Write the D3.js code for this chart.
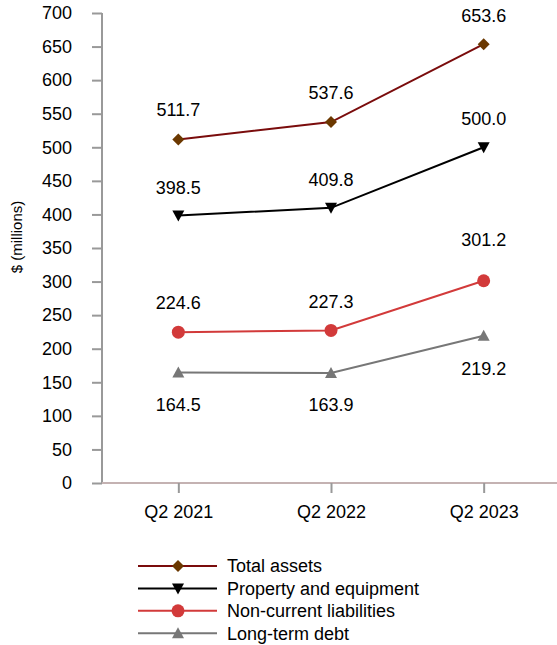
<!DOCTYPE html>
<html><head><meta charset="utf-8">
<script src="https://cdn.jsdelivr.net/npm/d3@7"></script>
<style>body{margin:0;background:#fff}svg{display:block;font-family:"Liberation Sans",Arial,Helvetica,sans-serif}</style>
</head><body><svg id="c" width="557" height="645"></svg>
<script>
const categories = ["Q2 2021","Q2 2022","Q2 2023"];
const totalAssets = [511.7,537.6,653.6];
const propertyEquipment = [398.5,409.8,500.0];
const nonCurrentLiabilities = [224.6,227.3,301.2];
const longTermDebt = [164.5,163.9,219.2];
const yTicks = [0,50,100,150,200,250,300,350,400,450,500,550,600,650,700];
const seriesNames = ["Total assets","Property and equipment","Non-current liabilities","Long-term debt"];

const series = [
  {name:seriesNames[0], values:totalAssets, line:"#7a0c0c", fill:"#6b3800", shape:"diamond", off:[-30,-29,-28]},
  {name:seriesNames[1], values:propertyEquipment, line:"#000", fill:"#000", shape:"down", off:[-28,-28,-29]},
  {name:seriesNames[2], values:nonCurrentLiabilities, line:"#d23a3a", fill:"#d23a3a", shape:"circle", off:[-29,-29,-41]},
  {name:seriesNames[3], values:longTermDebt, line:"#777", fill:"#777", shape:"up", off:[32,32,33]}
];

const FS = 18;
const svg = d3.select("#c");
const x = d3.scalePoint().domain(categories).range([102,560]).padding(0.5);
const y = d3.scaleLinear().domain([0,700]).range([483,13]);

// y axis
const ya = svg.append("g").attr("transform","translate(102,0)")
  .call(d3.axisLeft(y).tickValues(yTicks).tickSize(10).tickPadding(20).tickFormat(d3.format("d")));
ya.select(".domain").attr("stroke","#999").attr("stroke-width",2).attr("d","M0,13V483");
ya.selectAll(".tick line").attr("stroke","#999").attr("stroke-width",2);
ya.selectAll(".tick text").attr("font-size",FS).attr("fill","#000").attr("font-family","Liberation Sans, Arial");

// x axis
const xa = svg.append("g").attr("transform","translate(0,483)")
  .call(d3.axisBottom(x).tickSize(10).tickPadding(12));
xa.select(".domain").attr("stroke","#c4b2b2").attr("stroke-width",2).attr("d","M102,0H557");
xa.selectAll(".tick line").attr("stroke","#999").attr("stroke-width",2);
xa.selectAll(".tick text").attr("font-size",FS).attr("fill","#000").attr("font-family","Liberation Sans, Arial");

svg.append("text").attr("transform","translate(22,237) rotate(-90)")
  .attr("text-anchor","middle").attr("font-size",15).text("$ (millions)");

function marker(g, shape, cx, cy, fill){
  if(shape==="circle") g.append("circle").attr("cx",cx).attr("cy",cy).attr("r",6.5).attr("fill",fill);
  else if(shape==="diamond") g.append("path").attr("d",`M${cx},${cy-6}L${cx+6},${cy}L${cx},${cy+6}L${cx-6},${cy}Z`).attr("fill",fill);
  else if(shape==="down") g.append("path").attr("d",`M${cx-6},${cy-5}L${cx+6},${cy-5}L${cx},${cy+6}Z`).attr("fill",fill);
  else g.append("path").attr("d",`M${cx-6},${cy+5}L${cx+6},${cy+5}L${cx},${cy-6}Z`).attr("fill",fill);
}

const line = d3.line().x((d,i)=>x(categories[i])).y(d=>y(d));
series.forEach(s=>{
  const g = svg.append("g");
  g.append("path").attr("d",line(s.values)).attr("fill","none").attr("stroke",s.line).attr("stroke-width",2);
  s.values.forEach((v,i)=>{
    marker(g,s.shape,x(categories[i]),y(v),s.fill);
    g.append("text").attr("x",x(categories[i])).attr("y",y(v)+s.off[i]).attr("dy","0.35em")
      .attr("text-anchor","middle").attr("font-size",FS).text(v.toFixed(1));
  });
});

// legend
const lg = svg.append("g");
series.forEach((s,i)=>{
  const yy = 566 + i*22.4;
  lg.append("line").attr("x1",138).attr("x2",217).attr("y1",yy).attr("y2",yy).attr("stroke",s.line).attr("stroke-width",2);
  marker(lg,s.shape,178,yy,s.fill);
  lg.append("text").attr("x",227).attr("y",yy).attr("dy","0.35em").attr("font-size",FS).text(s.name);
});
</script></body></html>
